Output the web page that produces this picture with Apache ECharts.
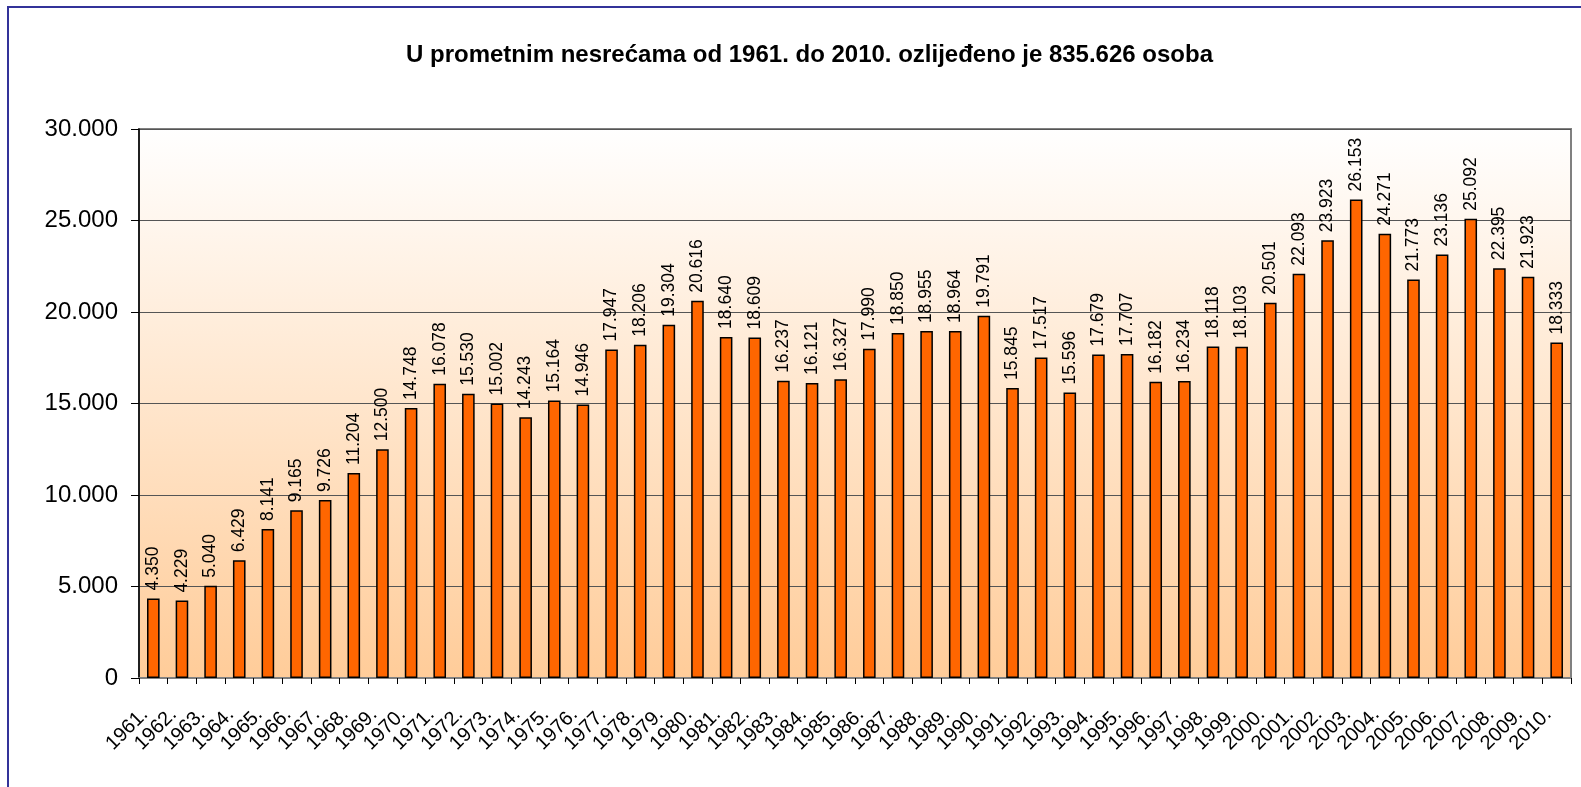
<!DOCTYPE html>
<html>
<head>
<meta charset="utf-8">
<script src="https://cdn.jsdelivr.net/npm/echarts@6/dist/echarts.min.js"></script>
<style>
  html, body { margin: 0; padding: 0; background: #fff; }
  #chart { width: 1581px; height: 787px; }
</style>
</head>
<body>
<div id="chart"></div>
<script>
// godine i broj ozlijeđenih
var years = [
  '1961.', '1962.', '1963.', '1964.', '1965.', '1966.', '1967.', '1968.', '1969.', '1970.',
  '1971.', '1972.', '1973.', '1974.', '1975.', '1976.', '1977.', '1978.', '1979.', '1980.',
  '1981.', '1982.', '1983.', '1984.', '1985.', '1986.', '1987.', '1988.', '1989.', '1990.',
  '1991.', '1992.', '1993.', '1994.', '1995.', '1996.', '1997.', '1998.', '1999.', '2000.',
  '2001.', '2002.', '2003.', '2004.', '2005.', '2006.', '2007.', '2008.', '2009.', '2010.'
];
var injured = [
  4350, 4229, 5040, 6429, 8141, 9165, 9726, 11204, 12500, 14748,
  16078, 15530, 15002, 14243, 15164, 14946, 17947, 18206, 19304, 20616,
  18640, 18609, 16237, 16121, 16327, 17990, 18850, 18955, 18964, 19791,
  15845, 17517, 15596, 17679, 17707, 16182, 16234, 18118, 18103, 20501,
  22093, 23923, 26153, 24271, 21773, 23136, 25092, 22395, 21923, 18333
];
var yMin = 0, yMax = 30000, yStep = 5000;

function fmt(v) {
  // tocka kao separator tisucica
  return String(v).replace(/\B(?=(\d{3})+(?!\d))/g, '.');
}

var myChart = echarts.init(document.getElementById('chart'));
myChart.setOption({
  animation: false,
  textStyle: { fontFamily: 'Liberation Sans, Arial, sans-serif' },
  title: {
    text: 'U prometnim nesrećama od 1961. do 2010. ozlijeđeno je 835.626 osoba',
    left: 401,
    top: 38,
    textStyle: { fontSize: 24, fontWeight: 'bold', color: '#000' }
  },
  graphic: [{
    type: 'rect',
    silent: true,
    z: -1,
    shape: { x: 8, y: 7, width: 1620, height: 820 },
    style: { fill: null, stroke: '#333399', lineWidth: 2 }
  }],
  grid: {
    left: 139, right: 10, top: 129, bottom: 109,
    show: true,
    borderColor: '#808080',
    borderWidth: 2,
    backgroundColor: new echarts.graphic.LinearGradient(0, 0, 0, 1, [
      { offset: 0, color: '#ffffff' },
      { offset: 1, color: '#ffcc99' }
    ])
  },
  xAxis: {
    type: 'category',
    data: years,
    axisLine: { lineStyle: { color: '#808080', width: 2 } },
    axisTick: { show: true, length: 6, lineStyle: { color: '#000' } },
    axisLabel: {
      rotate: 45, fontSize: 20, color: '#000', margin: 25, interval: 0,
      padding: [0, 12, 0, 0]
    }
  },
  yAxis: {
    type: 'value',
    min: yMin, max: yMax, interval: yStep,
    axisLine: { show: true, lineStyle: { color: '#000', width: 1.5 } },
    axisTick: { show: true, length: 8, lineStyle: { color: '#000' } },
    axisLabel: { fontSize: 24, color: '#000', margin: 21, formatter: fmt },
    splitLine: { lineStyle: { color: '#555', width: 1 } }
  },
  series: [{
    type: 'bar',
    data: injured,
    barWidth: '44%',
    itemStyle: { color: '#ff6600', borderColor: '#000', borderWidth: 1.5 },
    label: {
      show: true,
      position: 'top',
      rotate: 90,
      align: 'left',
      verticalAlign: 'middle',
      distance: 8,
      fontSize: 17.5,
      color: '#000',
      formatter: function (p) { return fmt(p.value); }
    }
  }]
});
</script>
</body>
</html>
